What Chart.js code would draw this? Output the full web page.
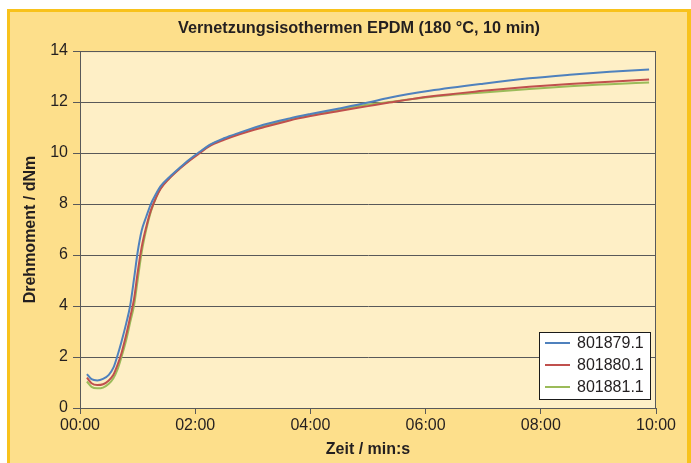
<!DOCTYPE html>
<html>
<head>
<meta charset="utf-8">
<script src="https://cdn.jsdelivr.net/npm/chart.js@4.4.1/dist/chart.umd.min.js"></script>
<style>
  html, body { margin: 0; padding: 0; background: #fff; }
  #wrap { position: absolute; left: 0; top: 0; width: 691px; height: 463px; }
</style>
</head>
<body>
<div id="wrap"><canvas id="vernetzungChart" width="691" height="463"></canvas></div>
<script>
// Zeit in Minuten
const zeit = [0.12, 0.2, 0.3, 0.4, 0.5, 0.58, 0.65, 0.72, 0.8, 0.87, 0.94, 1.0, 1.07, 1.15, 1.23, 1.32, 1.4, 1.55, 1.73, 1.9, 2.08, 2.25, 2.5, 2.77, 3.2, 3.64, 4.0, 4.5, 5.0, 5.37, 6.07, 7.0, 7.8, 8.5, 9.2, 9.88];

// Drehmoment in dNm
const probe801879 = [1.33, 1.13, 1.08, 1.14, 1.3, 1.58, 2.05, 2.6, 3.3, 4.0, 5.1, 6.1, 6.95, 7.5, 8.0, 8.4, 8.7, 9.05, 9.42, 9.75, 10.05, 10.32, 10.58, 10.8, 11.12, 11.36, 11.53, 11.75, 11.98, 12.17, 12.44, 12.72, 12.93, 13.07, 13.19, 13.28];
const probe801880 = [1.19, 0.97, 0.9, 0.93, 1.08, 1.3, 1.68, 2.15, 2.85, 3.55, 4.3, 5.3, 6.3, 7.1, 7.75, 8.25, 8.6, 9.0, 9.38, 9.7, 10.0, 10.27, 10.52, 10.74, 11.02, 11.28, 11.45, 11.65, 11.84, 11.98, 12.22, 12.44, 12.6, 12.71, 12.8, 12.88];
const probe801881 = [1.04, 0.83, 0.77, 0.8, 0.95, 1.17, 1.5, 2.0, 2.65, 3.35, 4.05, 5.0, 6.1, 7.0, 7.7, 8.25, 8.62, 9.02, 9.4, 9.72, 10.02, 10.3, 10.55, 10.77, 11.05, 11.32, 11.48, 11.7, 11.9, 12.0, 12.2, 12.37, 12.51, 12.62, 12.7, 12.77];

const probenNamen = ["801879.1", "801880.1", "801881.1"];
const farben = ["#4f81bd", "#c0504d", "#9bbb59"];

const xTicks = [0, 2, 4, 6, 8, 10];
const yTicks = [0, 2, 4, 6, 8, 10, 12, 14];

const FONT = "'Liberation Sans', Arial, sans-serif";
const TEXT_COLOR = "#231f20";
const GRID_COLOR = "#595959";

function toPoints(values) {
  return values.map((v, i) => ({ x: zeit[i], y: v }));
}

function formatZeit(min) {
  return String(min).padStart(2, "0") + ":00";
}

// Rahmen, Plotfläche und Legende
const framePlugin = {
  id: "frame",
  afterLayout(chart) {
    // Titel sitzt im Original etwas links von der Plotmitte
    if (chart.titleBlock) {
      chart.titleBlock.left -= 9;
      chart.titleBlock.right -= 9;
    }
  },
  beforeDraw(chart) {
    const { ctx, chartArea } = chart;
    ctx.save();
    ctx.fillStyle = "#ffffff";
    ctx.fillRect(0, 0, chart.width, chart.height);
    ctx.fillStyle = "#f8c21c";
    ctx.fillRect(7, 9, chart.width - 7, chart.height - 9);
    ctx.fillStyle = "#fddf8b";
    ctx.fillRect(10, 12, chart.width - 14, chart.height - 12);
    ctx.fillStyle = "#feefc6";
    ctx.fillRect(chartArea.left, chartArea.top, chartArea.right - chartArea.left, chartArea.bottom - chartArea.top);
    ctx.restore();
  },
  beforeDatasetsDraw(chart) {
    const { ctx, chartArea } = chart;
    ctx.save();
    ctx.strokeStyle = GRID_COLOR;
    ctx.lineWidth = 1;
    ctx.strokeRect(chartArea.left + 0.5, chartArea.top + 0.5, chartArea.right - chartArea.left - 1, chartArea.bottom - chartArea.top);
    ctx.restore();
  },
  afterDraw(chart) {
    const { ctx, chartArea } = chart;
    const sets = chart.data.datasets;
    const boxW = 111, rowH = 22;
    const boxH = sets.length * rowH + 1;
    const right = chartArea.right - 6;
    const bottom = chartArea.bottom - 9;
    const left = right - boxW;
    const top = bottom - boxH;
    ctx.save();
    ctx.fillStyle = "#ffffff";
    ctx.fillRect(left, top, boxW, boxH);
    ctx.strokeStyle = "#1a1a1a";
    ctx.lineWidth = 1;
    ctx.strokeRect(left + 0.5, top + 0.5, boxW, boxH);
    ctx.font = "16px " + FONT;
    ctx.textBaseline = "middle";
    sets.forEach((ds, i) => {
      const y = top + 11 + i * rowH;
      ctx.strokeStyle = ds.borderColor;
      ctx.lineWidth = 2;
      ctx.beginPath();
      ctx.moveTo(left + 6, y);
      ctx.lineTo(left + 31, y);
      ctx.stroke();
      ctx.fillStyle = TEXT_COLOR;
      ctx.fillText(ds.label, left + 38, y + 1);
    });
    ctx.restore();
  }
};

function renderVernetzungChart() {
  const ctx = document.getElementById("vernetzungChart").getContext("2d");
  const reihen = [probe801879, probe801880, probe801881];

  new Chart(ctx, {
    type: "line",
    data: {
      datasets: reihen.map((r, i) => ({
        label: probenNamen[i],
        data: toPoints(r),
        borderColor: farben[i],
        backgroundColor: farben[i],
        borderWidth: 2,
        pointRadius: 0,
        fill: false,
        cubicInterpolationMode: "monotone",
      })),
    },
    options: {
      responsive: false,
      animation: false,
      layout: { padding: { left: 0, right: 35, top: 0, bottom: 0 } },
      plugins: {
        legend: { display: false },
        tooltip: { enabled: false },
        title: {
          display: true,
          text: "Vernetzungsisothermen EPDM (180 °C, 10 min)",
          color: TEXT_COLOR,
          font: { family: FONT, size: 16.3, weight: "bold" },
          padding: { top: 19, bottom: 12.5 },
          fullSize: false,
        },
      },
      scales: {
        x: {
          type: "linear",
          min: 0,
          max: 10,
          afterBuildTicks: (s) => { s.ticks = xTicks.map((v) => ({ value: v })); },
          afterFit: (s) => { s.height = 55; },
          ticks: {
            color: TEXT_COLOR,
            font: { family: FONT, size: 16 },
            padding: 2,
            maxRotation: 0,
            callback: (v) => formatZeit(v),
          },
          grid: { drawOnChartArea: false, drawTicks: true, tickLength: 6, color: GRID_COLOR },
          border: { color: GRID_COLOR },
          title: {
            display: true,
            text: "Zeit / min:s",
            color: TEXT_COLOR,
            font: { family: FONT, size: 16, weight: "bold" },
            padding: { top: 0, bottom: 4 },
          },
        },
        y: {
          min: 0,
          max: 14,
          afterBuildTicks: (s) => { s.ticks = yTicks.map((v) => ({ value: v })); },
          afterFit: (s) => { s.width = 80; },
          ticks: {
            color: TEXT_COLOR,
            font: { family: FONT, size: 16 },
            padding: 5,
          },
          grid: { color: GRID_COLOR, tickLength: 7 },
          border: { color: GRID_COLOR },
          title: {
            display: true,
            text: "Drehmoment / dNm",
            color: TEXT_COLOR,
            font: { family: FONT, size: 16, weight: "bold" },
            padding: { top: 21, bottom: 0 },
          },
        },
      },
    },
    plugins: [framePlugin],
  });
}

document.addEventListener("DOMContentLoaded", () => {
  renderVernetzungChart();
});
</script>
</body>
</html>
